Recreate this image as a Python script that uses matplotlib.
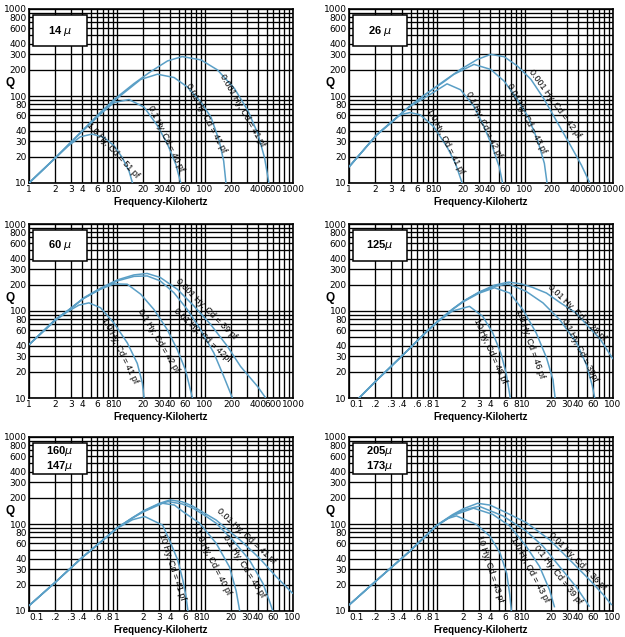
import matplotlib
matplotlib.use("Agg")
import matplotlib.pyplot as plt
from matplotlib.patches import Rectangle

# ---------------- data ----------------
TITLES = ["14 $\\mu$", "26 $\\mu$", "60 $\\mu$", "125$\\mu$", "160$\\mu$\n147$\\mu$", "205$\\mu$\n173$\\mu$"]

XT_HI = [1, 2, 3, 4, 6, 8, 10, 20, 30, 40, 60, 100, 200, 400, 600, 1000]
XT_HI_LBL = ["1", "2", "3", "4", "6", "8", "10", "20", "30", "40", "60", "100", "200", "400", "600", "1000"]
XT_LO = [0.1, 0.2, 0.3, 0.4, 0.6, 0.8, 1, 2, 3, 4, 6, 8, 10, 20, 30, 40, 60, 100]
XT_LO_LBL = ["0.1", ".2", ".3", ".4", ".6", ".8", "1", "2", "3", "4", "6", "8", "10", "20", "30", "40", "60", "100"]
YT = [10, 20, 30, 40, 60, 80, 100, 200, 300, 400, 600, 800, 1000]
YT_LBL = ["10", "20", "30", "40", "60", "80", "100", "200", "300", "400", "600", "800", "1000"]

# Panel 1: 14 mu
F14_A = [1, 2, 3.85, 6.5, 9.5, 15.6, 24, 37.5, 55, 90, 139, 216, 307, 400, 475, 532]
Q14_A = [10, 19.5, 38, 65, 93, 139, 190, 253, 284, 260, 199, 122, 68, 36.5, 19.5, 10]
F14_B = [1, 2, 3.85, 6.5, 9.5, 13, 18.6, 28.8, 44.6, 63, 90, 117, 145, 163, 173]
Q14_B = [10, 19.5, 38, 64, 90, 116, 155, 178, 163, 127, 85, 57, 30.5, 17.9, 10]
F14_C = [1, 2, 3.85, 6.5, 9.2, 13.7, 20.3, 28.8, 37.5, 46.7, 53]
Q14_C = [10, 19.5, 37.5, 62, 84, 91, 74.5, 45.6, 27.9, 16.3, 10]
F14_D = [1, 2, 2.83, 3.85, 5.2, 7.1, 9.3, 11.5, 13.7, 15]
Q14_D = [10, 19.5, 27, 34, 36.5, 33.4, 26.7, 19.5, 13.7, 10]
L14 = ["0.001 Hy, Cd = 41 pf", "0.01 Hy, Cd = 41 pf", "0.1 Hy, Cd = 40 pf", "1.0 Hy, Cd = 51 pf"]

# Panel 2: 26 mu
F26_A = [1, 2.06, 2.92, 4.95, 7.35, 11.9, 18.5, 28.7, 40.8, 58, 82, 117, 166, 236, 336, 438, 545]
Q26_A = [15.3, 35.7, 48.6, 77, 104, 148, 202, 263, 301, 283, 221, 155, 91, 48.6, 26, 16, 10]
F26_B = [1, 2.06, 2.92, 4.95, 7.35, 11.9, 15.5, 26.3, 40.8, 58, 82, 108, 139, 166, 178]
Q26_B = [15.3, 35.7, 48.6, 77, 104, 145, 177, 231, 202, 148, 91, 58, 31, 16.8, 10]
F26_C = [1, 2.06, 2.92, 4.95, 7.7, 13, 18.5, 26.3, 34.2, 42.6, 51, 55.6]
Q26_C = [15.3, 35.7, 48.6, 76, 99, 138, 118, 76, 44.6, 26, 15.3, 10]
F26_D = [1, 2.06, 2.92, 3.8, 4.95, 6.45, 9.15, 13, 16.2, 19.3]
Q26_D = [15.3, 35.7, 47.8, 60.8, 64.6, 60.8, 44.6, 26, 16.8, 10]
L26 = ["0.001 Hy, Cd = 42 pf", "0.01 Hy, Cd = 43 pf", "0.1 Hy, Cd = 42 pf", "1.0 Hy, Cd = 41 pf"]

# Panel 3: 60 mu
F60_A = [1, 2, 2.73, 4.2, 6.5, 10.1, 15.6, 22, 31, 48.4, 75, 116, 179, 254, 395, 490]
Q60_A = [41, 80, 100, 142, 183, 228, 260, 270, 243, 178, 114, 70, 39.5, 23, 13.6, 10]
F60_B = [1, 2, 2.73, 4.2, 6.5, 10.1, 15.6, 22, 31, 44.4, 63, 89, 126, 163, 205]
Q60_B = [41, 80, 100, 140, 180, 222, 250, 253, 222, 162, 104, 61, 33, 17.8, 10]
F60_C = [1, 2, 2.73, 4.2, 6.5, 9.2, 13.1, 18.6, 26.3, 37.3, 48.4, 60, 72]
Q60_C = [41, 80, 100, 140, 178, 205, 203, 156, 104, 61, 36, 21, 10]
F60_D = [1, 2, 2.73, 3.7, 4.8, 6.5, 9.2, 13.1, 17, 19.4, 20.3]
Q60_D = [41, 78, 98, 117, 124, 109, 73, 43, 25, 14.9, 10]
L60 = ["0.001 Hy, Cd = 39 pf", "0.01 Hy, Cd = 42pf", "0.1 Hy, Cd = 42 pf", "1.0 Hy, Cd = 41 pf"]

# Panel 4: 125 mu
F125_A = [0.13, 0.2, 0.3, 0.5, 0.75, 1.0, 1.5, 2, 3, 4.5, 6.5, 9, 12, 17.5, 25, 38, 55, 71, 100]
Q125_A = [10, 15.5, 23, 38, 57, 75, 105, 130, 165, 198, 215, 205, 188, 161, 125, 95, 63, 48, 28]
F125_B = [0.13, 0.2, 0.3, 0.5, 0.75, 1.0, 1.5, 2, 3, 4.5, 6.5, 10.3, 16, 24.9, 38.6, 50, 58, 62]
Q125_B = [10, 15.5, 23, 38, 57, 75, 105, 130, 163, 192, 205, 168, 124, 79, 43, 24, 14, 10]
F125_C = [0.13, 0.2, 0.3, 0.5, 0.75, 1.0, 1.5, 2, 3, 4.5, 6.7, 9.5, 13.4, 17.6, 20.8, 22]
Q125_C = [10, 15.5, 23, 38, 57, 75, 104, 128, 160, 185, 161, 103, 56, 28.8, 16.2, 10]
F125_D = [0.13, 0.2, 0.3, 0.5, 0.75, 1.0, 1.5, 2.34, 3.3, 4.3, 5.3, 6.1, 6.8]
Q125_D = [10, 15.5, 23, 38, 57, 74, 100, 113, 87, 56, 33, 19.4, 10]
L125 = ["0.01 Hy, Cd = 28 pf", "0.1 Hy, Cd = 39pf", "1.0 Hy, Cd = 46 pf", "10 Hy, Cd = 48 pf"]

# Panel 5: 160 / 147 mu
F160_A = [0.1, 0.2, 0.4, 0.7, 1.0, 1.5, 2, 3, 4, 5.5, 7.3, 10, 13.4, 18, 24.8, 32, 42, 64, 100]
Q160_A = [11.5, 21.5, 41, 66, 90, 118, 142, 172, 189, 180, 160, 132, 111, 86, 66, 52, 40, 25, 15.8]
F160_B = [0.1, 0.2, 0.4, 0.7, 1.0, 1.5, 2, 3, 3.8, 5.5, 7.3, 10, 13.4, 20.8, 32, 45.6, 54, 59]
Q160_B = [11.5, 21.5, 41, 66, 90, 118, 140, 170, 181, 170, 152, 125, 102, 65, 38.5, 20.7, 13, 10]
F160_C = [0.1, 0.2, 0.4, 0.7, 1.0, 1.5, 2, 3.3, 4.5, 5.6, 8.7, 13.4, 19, 22.6, 24.8]
Q160_C = [11.5, 21.5, 41, 66, 90, 117, 138, 173, 165, 139, 102, 60, 32, 17, 10]
F160_D = [0.1, 0.2, 0.4, 0.7, 1.0, 1.5, 2.06, 3.3, 3.95, 4.9, 5.6, 6.1, 6.4]
Q160_D = [11.5, 21.5, 41, 66, 89, 112, 122, 97, 65, 38.5, 22.6, 14.5, 10]
L160 = ["0.01 Hy, Cd = 41 pf", "0.1 Hy, Cd = 40 pf", "1.0 Hy, Cd = 40 pf", "10 Hy, Cd = 41 pf"]

# Panel 6: 205 / 173 mu
F205_A = [0.1, 0.2, 0.49, 0.98, 1.5, 2, 2.9, 4, 5.6, 10.3, 19, 32, 54, 78, 97]
Q205_A = [11.7, 21.9, 48.6, 96, 128, 150, 173, 165, 141, 104, 66, 39, 22.9, 15.3, 11.7]
F205_B = [0.1, 0.2, 0.49, 0.98, 1.5, 2, 3, 5.6, 10.3, 16, 24.6, 38, 49.6, 54]
Q205_B = [11.7, 21.9, 48.6, 95, 125, 145, 160, 124, 83, 55.6, 32.6, 19, 12.8, 11.2]
F205_C = [0.1, 0.2, 0.49, 0.98, 1.5, 2.6, 4.3, 6.7, 10.3, 14.6, 19, 21.7]
Q205_C = [11.7, 21.9, 48.6, 95, 125, 152, 129, 95, 55.6, 32.6, 17.5, 11]
F205_D = [0.1, 0.2, 0.49, 0.98, 1.3, 1.66, 2.8, 3.96, 5.2, 6.2, 6.7, 7]
Q205_D = [11.7, 21.9, 48.6, 95, 115, 124, 99, 73, 46.5, 27, 15.6, 10]
L205 = ["0.01 Hy, Cd = 36 pf", "0.1 Hy, Cd = 39 pf", "1.0 Hy, Cd = 43 pf", "10 Hy, Cd = 43 pf"]

PANELS = [
    ([(F14_A, Q14_A), (F14_B, Q14_B), (F14_C, Q14_C), (F14_D, Q14_D)], L14),
    ([(F26_A, Q26_A), (F26_B, Q26_B), (F26_C, Q26_C), (F26_D, Q26_D)], L26),
    ([(F60_A, Q60_A), (F60_B, Q60_B), (F60_C, Q60_C), (F60_D, Q60_D)], L60),
    ([(F125_A, Q125_A), (F125_B, Q125_B), (F125_C, Q125_C), (F125_D, Q125_D)], L125),
    ([(F160_A, Q160_A), (F160_B, Q160_B), (F160_C, Q160_C), (F160_D, Q160_D)], L160),
    ([(F205_A, Q205_A), (F205_B, Q205_B), (F205_C, Q205_C), (F205_D, Q205_D)], L205),
]

# ---------------- layout / style ----------------
W, H = 625, 637
LEFTS = [29, 349]
TOPS = [9, 224, 437]
AW, AH = 264, 174
CURVE = "#5a9fc6"
NARROW = ["Liberation Sans Narrow", "DejaVu Sans"]
SANS = ["Liberation Sans", "DejaVu Sans"]

# curve-label placement (pixel centre, rotation) per panel
LABEL_POS = [
    [(242, 110, -60), (206, 118, -62), (166, 138, -64), (113, 150, -47)],
    [(555, 104, -54), (527, 118, -63), (484, 124, -64), (445, 141, -63)],
    [(206, 309, -45), (202, 335, -43), (158, 341, -59), (120, 350, -64)],
    [(577, 313, -44), (580, 350, -63), (530, 344, -71), (490, 351, -66)],
    [(246, 536, -43), (244, 566, -58), (212, 562, -63), (172, 567, -72)],
    [(578, 561, -45), (558, 575, -52), (530, 570, -62), (490, 569, -72)],
]

fig = plt.figure(figsize=(W / 100, H / 100), dpi=100)
fig.patch.set_facecolor("white")


def grid_positions(lo_decade, n_dec):
    pos = []
    base = lo_decade
    for d in range(n_dec):
        for m in range(1, 10):
            pos.append(m * base)
        base *= 10
    pos.append(base)
    return pos


for i, (curves, labels) in enumerate(PANELS):
    r, c = divmod(i, 2)
    left, top = LEFTS[c], TOPS[r]
    ax = fig.add_axes([left / W, 1 - (top + AH) / H, AW / W, AH / H])
    ax.set_xscale("log")
    ax.set_yscale("log")
    hi = i < 3
    xlo, xhi = (1, 1000) if hi else (0.1, 100)
    ax.set_xlim(xlo, xhi)
    ax.set_ylim(10, 1000)

    # grid
    for gx in grid_positions(xlo, 3):
        ax.axvline(gx, color="black", lw=0.95, zorder=1)
    for gy in grid_positions(10, 2):
        ax.axhline(gy, color="black", lw=0.95, zorder=1)

    xt = XT_HI if hi else XT_LO
    xl = XT_HI_LBL if hi else XT_LO_LBL
    ax.set_xticks(xt)
    ax.set_xticklabels(xl, fontsize=6.5, family=NARROW)
    if not hi:
        ax.get_xticklabels()[0].set_horizontalalignment("left")
    ax.set_yticks(YT)
    ax.set_yticklabels(YT_LBL, fontsize=6.5, family=NARROW)
    ax.minorticks_off()
    ax.tick_params(length=0, pad=1.5)
    for sp in ax.spines.values():
        sp.set_linewidth(1.2)
        sp.set_color("black")

    for f, q in curves:
        ax.plot(f, q, color=CURVE, lw=1.1, zorder=3, solid_capstyle="butt")

    # title box
    ax.add_patch(Rectangle((4 / AW, 1 - 37 / AH), 54 / AW, 31 / AH, transform=ax.transAxes,
                           facecolor="white", edgecolor="black", lw=1.1, zorder=6))
    ax.text(31 / AW, 1 - 21.5 / AH, TITLES[i], transform=ax.transAxes, ha="center", va="center",
            fontsize=8, fontweight="bold", family=SANS, zorder=7, linespacing=1.05)

    # axis labels
    fig.text((left - 19) / W, 1 - (top + 74) / H, "Q", ha="center", va="center",
             fontsize=8.5, fontweight="bold", family=SANS)
    fig.text((left + AW / 2) / W, 1 - (top + AH + 19) / H, "Frequency-Kilohertz", ha="center",
             va="center", fontsize=7, fontweight="bold", family=SANS)

    # curve labels
    for lbl, (px, py, rot) in zip(labels, LABEL_POS[i]):
        fig.text(px / W, 1 - py / H, lbl, ha="center", va="center", rotation=rot,
                 rotation_mode="anchor", fontsize=6.5, family=SANS, zorder=8)

fig.savefig("out.png", dpi=100, facecolor="white")
